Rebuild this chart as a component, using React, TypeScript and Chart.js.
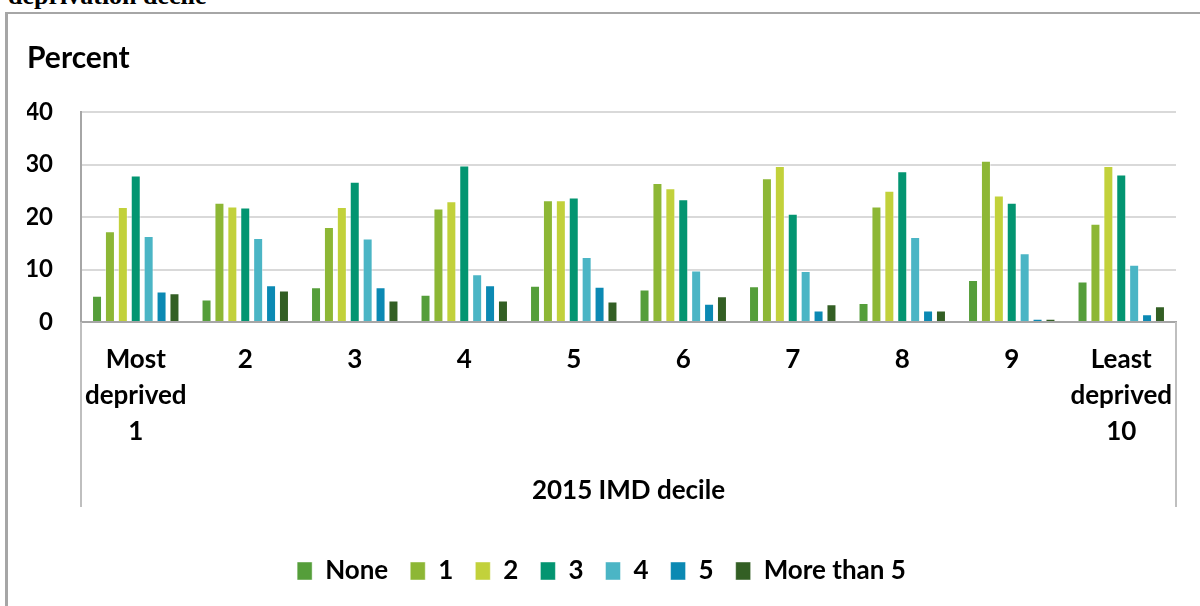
import React, { useEffect, useRef } from 'react';
import { Chart, registerables } from 'chart.js';

Chart.register(...registerables);

const categories: (string | string[])[] = [
  ['Most', 'deprived', '1'], '2', '3', '4', '5', '6', '7', '8', '9', ['Least', 'deprived', '10'],
];
const seriesNames = ['None', '1', '2', '3', '4', '5', 'More than 5'];
const noneValues = [5.0, 4.3, 6.6, 5.2, 6.9, 6.2, 6.8, 3.6, 8.0, 7.7];
const oneValues = [17.3, 22.7, 18.1, 21.6, 23.2, 26.5, 27.4, 22.0, 30.7, 18.7];
const twoValues = [21.9, 22.0, 21.9, 23.0, 23.2, 25.5, 29.7, 25.0, 24.1, 29.7];
const threeValues = [27.9, 21.8, 26.7, 29.8, 23.7, 23.4, 20.6, 28.7, 22.7, 28.1];
const fourValues = [16.4, 16.0, 15.9, 9.1, 12.4, 9.8, 9.7, 16.2, 13.1, 10.9];
const fiveValues = [5.8, 7.0, 6.6, 7.0, 6.7, 3.5, 2.2, 2.2, 0.6, 1.5];
const moreValues = [5.5, 6.0, 4.1, 4.1, 3.9, 4.9, 3.4, 2.2, 0.6, 3.0];
const seriesValues = [noneValues, oneValues, twoValues, threeValues, fourValues, fiveValues, moreValues];
const seriesColors = ['#559E3A', '#8DB735', '#C2D13B', '#039571', '#4BB5C5', '#0B89B3', '#335F24'];
const yMin = 0;
const yMax = 40;
const yStep = 10;

const FONT = 'Lato, "Noto Sans", sans-serif';

const categoryFramePlugin = {
  id: 'categoryFrame',
  afterDraw(chart: any) {
    const { ctx, chartArea, scales } = chart;
    const xs = scales.x;
    ctx.save();
    ctx.strokeStyle = '#BFBFBF';
    ctx.lineWidth = 2;
    ctx.beginPath();
    ctx.moveTo(chartArea.left, chartArea.bottom);
    ctx.lineTo(chartArea.left, xs.bottom);
    ctx.moveTo(chartArea.right, chartArea.bottom);
    ctx.lineTo(chartArea.right, xs.bottom);
    ctx.stroke();
    ctx.restore();
  },
};

export default function App() {
  const canvasRef = useRef<HTMLCanvasElement | null>(null);

  useEffect(() => {
    if (!canvasRef.current) return;
    const chart = new Chart(canvasRef.current, {
      type: 'bar',
      data: {
        labels: categories,
        datasets: seriesNames.map((name, i) => ({
          label: name,
          data: seriesValues[i],
          backgroundColor: seriesColors[i],
          borderColor: 'rgba(255,255,255,0.45)',
          borderWidth: 1,
          categoryPercentage: 0.825,
          barPercentage: 0.775,
        })),
      },
      options: {
        animation: false,
        responsive: false,
        devicePixelRatio: 1,
        layout: { padding: { left: 27, right: 24, top: 0, bottom: 12 } },
        plugins: {
          title: {
            display: true,
            text: 'Percent',
            align: 'start',
            color: '#000',
            font: { family: FONT, size: 30, weight: 'bold', lineHeight: 1.2 },
            padding: { top: 40, bottom: 36 },
          },
          legend: {
            position: 'bottom',
            title: { display: true, text: '', font: { size: 9, lineHeight: 1 }, padding: { top: 20, bottom: 0 } },
            labels: {
              boxWidth: 15,
              boxHeight: 18,
              padding: 22,
              color: '#000',
              font: { family: FONT, size: 26, weight: 'bold' },
            },
          },
          tooltip: { enabled: false },
        },
        scales: {
          x: {
            grid: { display: false, drawTicks: false },
            border: { display: true, color: '#A6A6A6', width: 2 },
            ticks: {
              color: '#000',
              font: { family: FONT, size: 26, weight: 'bold', lineHeight: 1.385 },
              padding: 20,
              maxRotation: 0,
              autoSkip: false,
            },
            title: {
              display: true,
              text: '2015 IMD decile',
              color: '#000',
              font: { family: FONT, size: 26, weight: 'bold', lineHeight: 1.2 },
              padding: { top: 0, bottom: 1 },
            },
            afterFit(scale: any) {
              scale.height = 185;
            },
          },
          y: {
            min: yMin,
            max: yMax,
            ticks: {
              stepSize: yStep,
              color: '#000',
              font: { family: FONT, size: 24, weight: 'bold' },
              padding: 28,
            },
            grid: { color: '#D9D9D9', lineWidth: 2, drawTicks: false },
            border: { display: true, color: '#A6A6A6', width: 2 },
            afterFit(scale: any) {
              scale.width = 54;
            },
          },
        },
      },
      plugins: [categoryFramePlugin],
    } as any);
    return () => chart.destroy();
  }, []);

  return (
    <div style={{ position: 'absolute', left: 0, top: 0, width: 1200, height: 606, overflow: 'hidden', background: '#fff' }}>
      <div
        style={{
          position: 'absolute', left: 8, top: -17, whiteSpace: 'nowrap',
          fontFamily: '"Liberation Serif", serif', fontWeight: 'bold', fontSize: 26, lineHeight: '26px', color: '#000',
        }}
      >
        deprivation decile
      </div>
      <div
        style={{
          position: 'absolute', left: 5, top: 12, width: 1400, height: 800,
          borderLeft: '3px solid #A6A6A6', borderTop: '2px solid #A6A6A6',
        }}
      />
      <canvas ref={canvasRef} width={1200} height={606} style={{ position: 'absolute', left: 0, top: 0, width: 1200, height: 606 }} />
    </div>
  );
}
